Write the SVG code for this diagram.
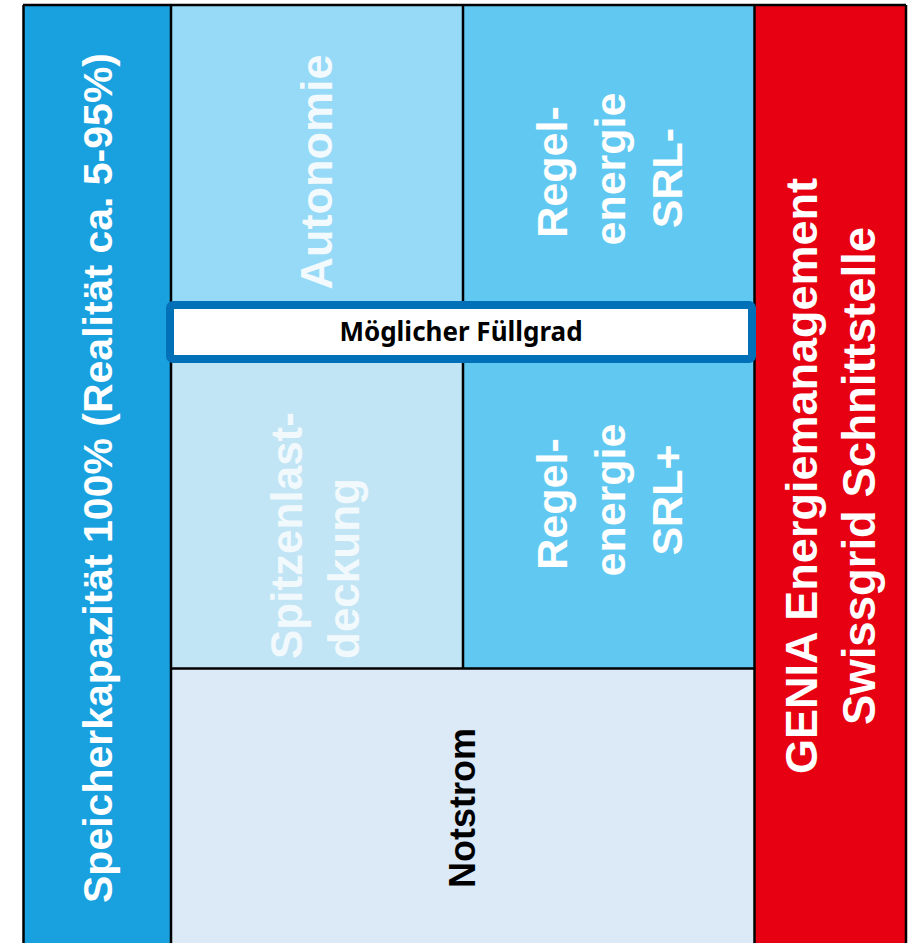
<svg xmlns="http://www.w3.org/2000/svg" width="915" height="943" viewBox="0 0 915 943">
<style>
.lbl{font-family:"Liberation Sans",Arial,sans-serif;font-weight:700;text-anchor:middle}
.w{fill:#FFFFFF}
.cell{stroke:none}
.line{stroke:#000;stroke-width:2.5;fill:none}
</style>
<rect x="0" y="0" width="915" height="943" fill="#FFFFFF"/>
<g id="speicher">
<rect class="cell" x="23" y="5" width="148" height="940" fill="#19A1DF"/>
<text class="lbl w" font-size="41" transform="translate(112,478) rotate(-90)">Speicherkapazität 100% (Realität ca. 5-95%)</text>
</g>
<g id="autonomie">
<rect class="cell" x="171" y="5" width="292" height="328" fill="#97DAF7"/>
<text class="lbl" font-size="45" fill="#FFFFFF" fill-opacity="0.88" transform="translate(332,172) rotate(-90)">Autonomie</text>
</g>
<g id="srl-minus">
<rect class="cell" x="463" y="5" width="291" height="328" fill="#61C9F1"/>
<text class="lbl w" font-size="43" transform="translate(567,172) rotate(-90)">Regel-</text>
<text class="lbl w" font-size="43" transform="translate(625,169) rotate(-90)">energie</text>
<text class="lbl w" font-size="43" transform="translate(682,178) rotate(-90)">SRL-</text>
</g>
<g id="spitzenlast">
<rect class="cell" x="171" y="333" width="292" height="335" fill="#C2E5F5"/>
<text font-family="Liberation Sans, Arial, sans-serif" font-weight="700" font-size="44" fill="#FFFFFF" fill-opacity="0.78" transform="translate(302,659) rotate(-90)">Spitzenlast-</text>
<text font-family="Liberation Sans, Arial, sans-serif" font-weight="700" font-size="44" fill="#FFFFFF" fill-opacity="0.78" transform="translate(359,659) rotate(-90)">deckung</text>
</g>
<g id="srl-plus">
<rect class="cell" x="463" y="333" width="291" height="335" fill="#61C9F1"/>
<text class="lbl w" font-size="43" transform="translate(567,504) rotate(-90)">Regel-</text>
<text class="lbl w" font-size="43" transform="translate(625,500) rotate(-90)">energie</text>
<text class="lbl w" font-size="43" transform="translate(682,500) rotate(-90)">SRL+</text>
</g>
<g id="notstrom">
<rect class="cell" x="171" y="668" width="583" height="277" fill="#DCEAF7"/>
<text class="lbl" font-size="36" fill="#000000" transform="translate(475,808) rotate(-90)">Notstrom</text>
</g>
<g id="genia">
<rect class="cell" x="754" y="5" width="152" height="940" fill="#E60012"/>
<text class="lbl w" font-size="45" transform="translate(817,476) rotate(-90)">GENIA Energiemanagement</text>
<text class="lbl w" font-size="45.5" transform="translate(875,476) rotate(-90)">Swissgrid Schnittstelle</text>
</g>
<g id="connectors">
<line class="line" x1="23" y1="5" x2="906" y2="5"/>
<line class="line" x1="23.5" y1="5" x2="23.5" y2="945"/>
<line class="line" x1="171" y1="5" x2="171" y2="945"/>
<line class="line" x1="463" y1="5" x2="463" y2="668"/>
<line class="line" x1="754.5" y1="5" x2="754.5" y2="945"/>
<line class="line" x1="906" y1="5" x2="906" y2="945"/>
<line class="line" x1="171" y1="668.5" x2="754.5" y2="668.5"/>
</g>
<g id="fuellgrad">
<rect x="170" y="305" width="582" height="54" rx="3" fill="#FFFFFF" stroke="#0070B8" stroke-width="8"/>
<text font-family="Noto Sans, Liberation Sans, sans-serif" font-weight="700" font-size="26" fill="#000" text-anchor="middle" x="461" y="341">Möglicher Füllgrad</text>
</g>
</svg>
